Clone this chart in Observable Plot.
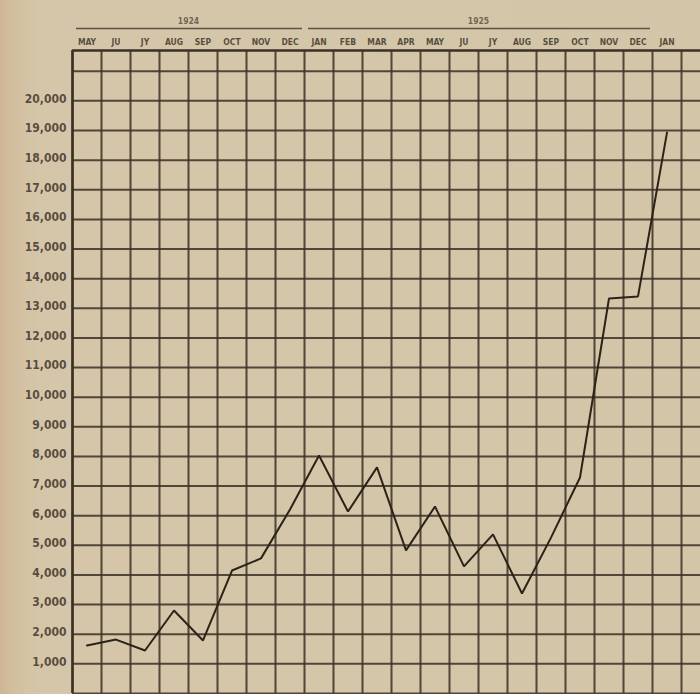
<!DOCTYPE html>
<html>
<head>
<meta charset="utf-8">
<script src="https://cdn.jsdelivr.net/npm/d3@7"></script>
<script src="https://cdn.jsdelivr.net/npm/@observablehq/plot@0.6"></script>
<style>
  html, body { margin: 0; padding: 0; }
  body {
    width: 700px; height: 694px; overflow: hidden;
    background: linear-gradient(to right, #cfb595 0px, #d3bfa0 14px, #d5c6a9 40px, #d3c6a8 100%);
  }
  #chart svg { display: block; background: transparent; }
</style>
</head>
<body>
<div id="chart"></div>
<script>
// Month labels along the top (May 1924 – Jan 1926)
const months = ["MAY","JU","JY","AUG","SEP","OCT","NOV","DEC","JAN","FEB","MAR","APR","MAY","JU","JY","AUG","SEP","OCT","NOV","DEC","JAN"];
// Values
const values = [1620,1820,1450,2800,1790,4150,4560,6210,8030,6140,7630,4830,6310,4290,5370,3375,5260,7290,13330,13400,18930];
// Year headers and the month ranges they span
const yearLabels = ["1924", "1925"];
const yearStart = [0, 8];
const yearEnd = [8, 20];
// Y tick labels
const yTicks = [1000,2000,3000,4000,5000,6000,7000,8000,9000,10000,11000,12000,13000,14000,15000,16000,17000,18000,19000,20000];
// Grid lines
const yGrid = [0,1000,2000,3000,4000,5000,6000,7000,8000,9000,10000,11000,12000,13000,14000,15000,16000,17000,18000,19000,20000,21000];
const xGrid = d3.range(0, 22);
const yTop = 21700;

const data = months.map((m, i) => ({pos: i + 0.5, month: m, value: values[i]}));
const years = yearLabels.map((y, i) => ({label: y, x1: yearStart[i], x2: yearEnd[i], mid: (yearStart[i] + yearEnd[i]) / 2}));

const ink = "#3a3024";
const labelInk = "#3f362b";
const font = "'DejaVu Sans Condensed', 'DejaVu Sans', sans-serif";

const chart = Plot.plot({
  width: 700,
  height: 694,
  marginLeft: 72,
  marginRight: 0,
  marginTop: 50,
  marginBottom: 1,
  style: {background: "transparent", fontFamily: font},
  x: {type: "linear", domain: [0, 628 / 29], axis: null},
  y: {type: "linear", domain: [0, yTop], axis: null},
  marks: [
    Plot.ruleX(xGrid, {x: d => d, stroke: ink, strokeWidth: 2, strokeOpacity: 0.85}),
    Plot.ruleY(yGrid, {y: d => d, stroke: ink, strokeWidth: 2, strokeOpacity: 0.85}),
    Plot.ruleY([yTop], {y: d => d, stroke: ink, strokeWidth: 2.5}),
    Plot.ruleX([0], {x: d => d, stroke: ink, strokeWidth: 2.5}),
    Plot.line(data, {x: "pos", y: "value", stroke: "#2b2318", strokeWidth: 2, strokeLinejoin: "miter"}),
    Plot.text(yTicks, {
      y: d => d, text: d => d3.format(",")(d), frameAnchor: "left", textAnchor: "end",
      dx: -6, dy: -2, fontSize: 12, fontWeight: "bold", fill: labelInk, fillOpacity: 0.85
    }),
    Plot.text(data, {
      x: "pos", text: "month", frameAnchor: "top", dy: -12,
      fontSize: 8.5, fontWeight: "bold", fill: labelInk, fillOpacity: 0.85
    }),
    Plot.ruleY(years, {
      x1: "x1", x2: "x2", y: () => yTop, dy: -22, insetLeft: 4, insetRight: 2,
      stroke: labelInk, strokeWidth: 1.5, strokeOpacity: 0.8
    }),
    Plot.text(years, {
      x: "mid", text: "label", frameAnchor: "top", dy: -33,
      fontSize: 8.5, fontWeight: "bold", fill: labelInk, fillOpacity: 0.7
    })
  ]
});

document.getElementById("chart").appendChild(chart);
</script>
</body>
</html>
